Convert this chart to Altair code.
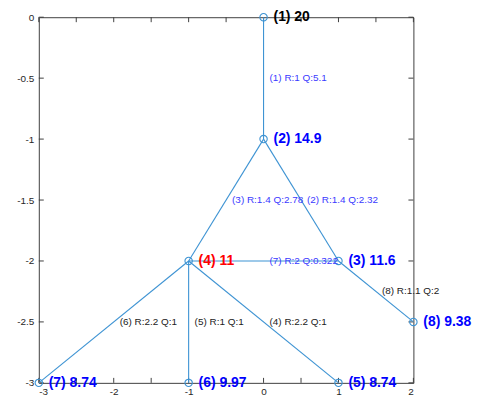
import altair as alt
import pandas as pd

# ---- data ----
node_id = [1, 2, 3, 4, 5, 6, 7, 8]
node_x = [0, 0, 1, -1, 1, -1, -3, 2]
node_y = [0, -1, -2, -2, -3, -3, -3, -2.5]
node_val = ["20", "14.9", "11.6", "11", "8.74", "9.97", "8.74", "9.38"]
node_col = ["#000000", "#0000ff", "#0000ff", "#ff0000", "#0000ff", "#0000ff", "#0000ff", "#0000ff"]

edge_id = [1, 2, 3, 4, 5, 6, 7, 8]
edge_from = [1, 2, 2, 4, 4, 4, 4, 3]
edge_to = [2, 3, 4, 5, 6, 7, 3, 8]
edge_R = ["1", "1.4", "1.4", "2.2", "1", "2.2", "2", "1.1"]
edge_Q = ["5.1", "2.32", "2.78", "1", "1", "1", "0.322", "2"]
edge_col = ["#3a3aff", "#3a3aff", "#3a3aff", "#222222", "#222222", "#222222", "#3a3aff", "#222222"]

x_ticks = [-3, -2.5, -2, -1.5, -1, -0.5, 0, 0.5, 1, 1.5, 2]
y_ticks = [0, -0.5, -1, -1.5, -2, -2.5, -3]

# ---- tables ----
pos = {i: (x, y) for i, x, y in zip(node_id, node_x, node_y)}
nodes = pd.DataFrame({
    "id": node_id, "x": node_x, "y": node_y,
    "label": [f"({i}) {v}" for i, v in zip(node_id, node_val)],
    "color": node_col,
})
edges = pd.DataFrame({
    "x": [pos[a][0] for a in edge_from],
    "y": [pos[a][1] for a in edge_from],
    "x2": [pos[b][0] for b in edge_to],
    "y2": [pos[b][1] for b in edge_to],
    "label": [f"({i}) R:{r} Q:{q}" for i, r, q in zip(edge_id, edge_R, edge_Q)],
    "color": edge_col,
})
edges["mx"] = (edges["x"] + edges["x2"]) / 2
edges["my"] = (edges["y"] + edges["y2"]) / 2

xt = pd.DataFrame({"v": x_ticks})
yt = pd.DataFrame({"v": y_ticks})

W, H = 377, 368
LINE = "#3d93d3"
AXC = "#404040"
FONT = "Liberation Sans"

xs = alt.Scale(domain=[-3, 2], nice=False, zero=False)
ys = alt.Scale(domain=[-3, 0], nice=False, zero=False)

xaxis = alt.Axis(values=x_ticks, grid=False, ticks=False, domain=False,
                 labelExpr="'' + datum.value", labelFontSize=10,
                 labelColor="#262626", labelFont=FONT, labelPadding=4, title=None)
yaxis = alt.Axis(values=y_ticks, grid=False, ticks=False, domain=False,
                 labelExpr="'' + datum.value", labelFontSize=10,
                 labelColor="#262626", labelFont=FONT, labelPadding=5, title=None)

lines = alt.Chart(edges).mark_rule(color=LINE, strokeWidth=1.1).encode(
    x=alt.X("x:Q", scale=xs, axis=xaxis),
    y=alt.Y("y:Q", scale=ys, axis=yaxis),
    x2="x2:Q", y2="y2:Q",
)

circles = alt.Chart(nodes).mark_point(shape="circle", filled=False, size=55,
                                      color=LINE, strokeWidth=1.1, opacity=1).encode(
    x=alt.X("x:Q", scale=xs), y=alt.Y("y:Q", scale=ys)
)

node_text = alt.Chart(nodes).mark_text(align="left", baseline="middle", dx=10,
                                       fontSize=14, fontWeight="bold", font=FONT).encode(
    x=alt.X("x:Q", scale=xs), y=alt.Y("y:Q", scale=ys),
    text="label:N", color=alt.Color("color:N", scale=None),
)

edge_text = alt.Chart(edges).mark_text(align="left", baseline="middle", dx=6,
                                       fontSize=10, font=FONT).encode(
    x=alt.X("mx:Q", scale=xs), y=alt.Y("my:Q", scale=ys),
    text="label:N", color=alt.Color("color:N", scale=None),
)

tb = alt.Chart(xt).mark_rule(color=AXC).encode(
    x=alt.X("v:Q", scale=xs), y=alt.value(H), y2=alt.value(H - 5))
tt = alt.Chart(xt).mark_rule(color=AXC).encode(
    x=alt.X("v:Q", scale=xs), y=alt.value(0), y2=alt.value(5))
tl = alt.Chart(yt).mark_rule(color=AXC).encode(
    y=alt.Y("v:Q", scale=ys), x=alt.value(0), x2=alt.value(5))
tr = alt.Chart(yt).mark_rule(color=AXC).encode(
    y=alt.Y("v:Q", scale=ys), x=alt.value(W), x2=alt.value(W - 5))

chart = alt.layer(tb, tt, tl, tr, lines, circles, edge_text, node_text).properties(
    width=W, height=H,
    autosize=alt.AutoSizeParams(type="none"),
    padding={"left": 31, "top": 8, "right": 62, "bottom": 18},
    background="white",
).configure_view(stroke=AXC, strokeWidth=1)

chart.save("out.html", embed_options={"renderer": "svg", "actions": False})
